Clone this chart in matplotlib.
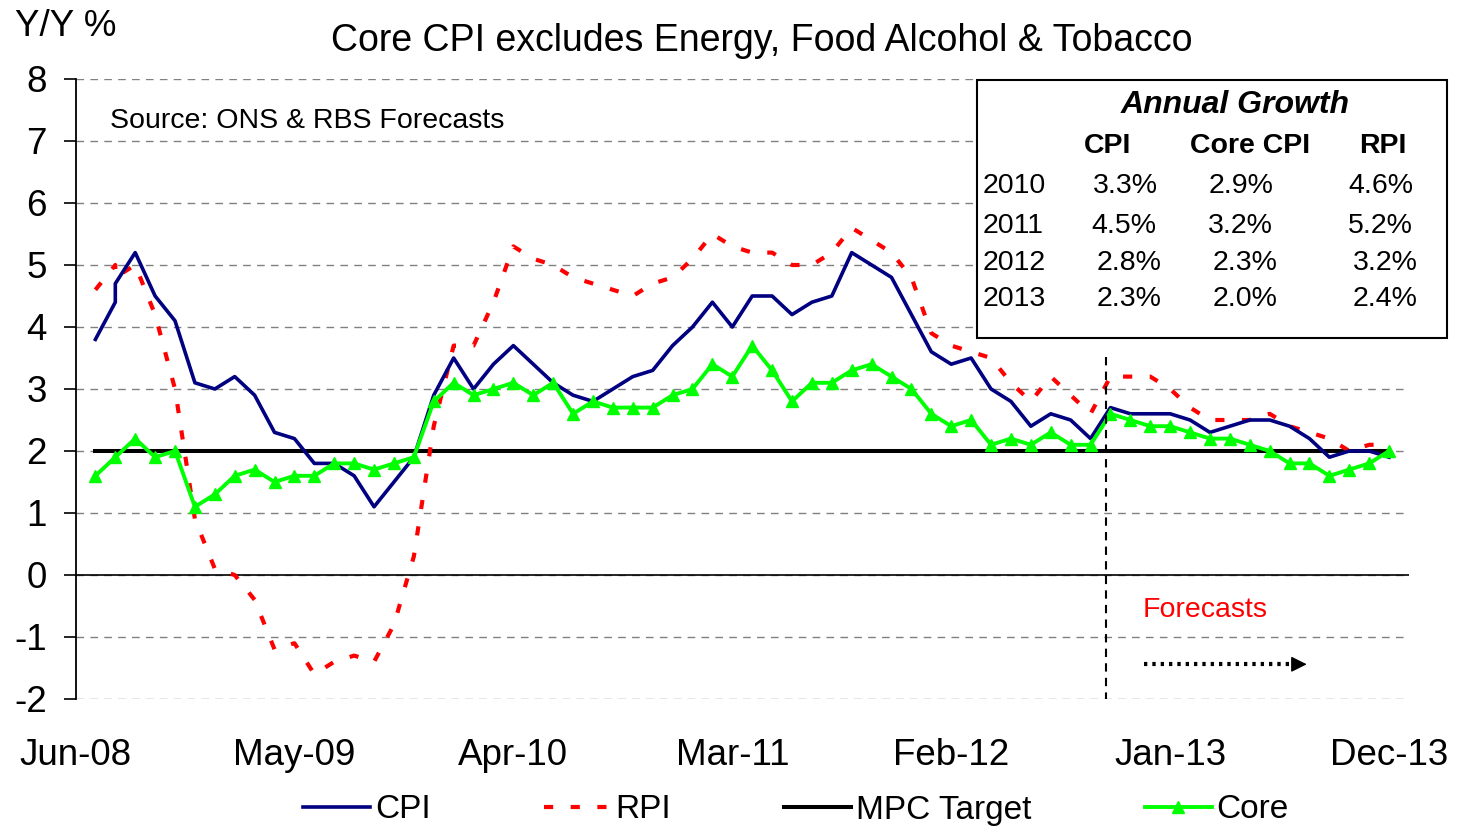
import numpy as np
import matplotlib
matplotlib.use("Agg")
import matplotlib.pyplot as plt
from matplotlib.patches import Rectangle

plt.rcParams['font.family'] = ['Liberation Sans', 'DejaVu Sans']

# ---------------- data ----------------
tick_labels = ['Jun-08', 'May-09', 'Apr-10', 'Mar-11', 'Feb-12', 'Jan-13', 'Dec-13']
tick_months = [0, 11, 22, 33, 44, 55, 66]          # months after Jun-08

months = np.arange(1, 67)                            # plotted month positions

# CPI and RPI carry two readings at the second position (as in the source chart)
cpi = [3.8, 4.4, 4.7, 5.2, 4.5, 4.1, 3.1, 3.0, 3.2, 2.9, 2.3, 2.2, 1.8, 1.8, 1.6,
       1.1, 1.5, 1.9, 2.9, 3.5, 3.0, 3.4, 3.7, 3.4, 3.1, 2.9, 2.8, 3.0, 3.2, 3.3,
       3.7, 4.0, 4.4, 4.0, 4.5, 4.5, 4.2, 4.4, 4.5, 5.2, 5.0, 4.8, 4.2, 3.6, 3.4,
       3.5, 3.0, 2.8, 2.4, 2.6, 2.5, 2.2, 2.7, 2.6, 2.6, 2.6, 2.5, 2.3, 2.4, 2.5,
       2.5, 2.4, 2.2, 1.9, 2.0, 2.0, 1.9]
rpi = [4.6, 5.0, 4.8, 5.0, 4.2, 3.0, 0.9, 0.1, 0.0, -0.4, -1.2, -1.1, -1.6, -1.4,
       -1.3, -1.4, -0.8, 0.3, 2.4, 3.7, 3.7, 4.4, 5.3, 5.1, 5.0, 4.8, 4.7, 4.6,
       4.5, 4.7, 4.8, 5.1, 5.5, 5.3, 5.2, 5.2, 5.0, 5.0, 5.2, 5.6, 5.4, 5.2, 4.8,
       3.9, 3.7, 3.6, 3.5, 3.1, 2.8, 3.2, 2.9, 2.6, 3.2, 3.2, 3.2, 3.0, 2.7, 2.5,
       2.5, 2.5, 2.6, 2.4, 2.3, 2.2, 2.0, 2.1, 2.1]
core = [1.6, 1.9, 2.2, 1.9, 2.0, 1.1, 1.3, 1.6, 1.7, 1.5, 1.6, 1.6, 1.8, 1.8, 1.7,
        1.8, 1.9, 2.8, 3.1, 2.9, 3.0, 3.1, 2.9, 3.1, 2.6, 2.8, 2.7, 2.7, 2.7, 2.9,
        3.0, 3.4, 3.2, 3.7, 3.3, 2.8, 3.1, 3.1, 3.3, 3.4, 3.2, 3.0, 2.6, 2.4, 2.5,
        2.1, 2.2, 2.1, 2.3, 2.1, 2.1, 2.6, 2.5, 2.4, 2.4, 2.3, 2.2, 2.2, 2.1, 2.0,
        1.8, 1.8, 1.6, 1.7, 1.8, 2.0]
mpc_target = [2.0] * len(months)

table_years = ['2010', '2011', '2012', '2013']
table_cols = ['CPI', 'Core CPI', 'RPI']
table_cpi = ['3.3%', '4.5%', '2.8%', '2.3%']
table_core = ['2.9%', '3.2%', '2.3%', '2.0%']
table_rpi = ['4.6%', '5.2%', '3.2%', '2.4%']

forecast_start = 51.8

# ---------------- figure ----------------
W, H = 1459, 826
fig = plt.figure(figsize=(W / 100, H / 100), dpi=100)
ax = fig.add_axes([75.5 / W, 1 - 699 / H, (1409 - 75.5) / W, (699 - 79) / H])

def fp(x, y):
    return (x / W, 1 - y / H)

dup_pos = np.insert(months, 1, months[1])

ax.set_xlim(0, 67)
ax.set_ylim(-2, 8)

ax.set_yticks(range(-2, 9))
ax.yaxis.grid(True, color='#808080', lw=1.0, linestyle=(0, (5.5, 4.5)))
ax.set_axisbelow(True)
ax.axhline(0, color='black', lw=1.2, zorder=1)

l_mpc, = ax.plot(months, mpc_target, color='black', lw=2.9, zorder=2, label='MPC Target')
l_rpi, = ax.plot(dup_pos, rpi, color='#FF0000', lw=3.0, linestyle=(0, (2.2, 4.2)),
                 zorder=3, label='RPI')
l_cpi, = ax.plot(dup_pos, cpi, color='#000080', lw=2.6, zorder=4, label='CPI')
l_core, = ax.plot(months, core, color='#00FF00', lw=2.8, marker='^', ms=9,
                  mec='#00FF00', mfc='#00FF00', zorder=5, label='Core')

# forecast divider
ax.plot([forecast_start, forecast_start], [3.52, -2], color='black', lw=1.5,
        linestyle=(0, (4, 3)), zorder=6)

# dotted arrow
ax.plot([53.7, 61.4], [-1.44, -1.44], color='black', lw=3.0, linestyle=(0, (0.8, 1.2)),
        zorder=6)
ax.annotate('', xy=(62.0, -1.44), xytext=(61.2, -1.44),
            arrowprops=dict(arrowstyle='-|>', color='black', lw=1.0, mutation_scale=24),
            zorder=6)

# spines / ticks
for s in ['top', 'right', 'bottom']:
    ax.spines[s].set_visible(False)
ax.spines['left'].set_linewidth(1.3)
ax.tick_params(axis='y', length=8.5, width=1.2, pad=12, labelsize=26.5)
ax.set_yticklabels([str(v) for v in range(-2, 9)])
ax.set_xticks(tick_months)
ax.set_xticklabels(tick_labels)
ax.tick_params(axis='x', length=0, pad=28, labelsize=26.5)

# texts
fig.text(*fp(15, 27), 'Y/Y %', fontsize=26.5, ha='left', va='center')
fig.text(*fp(762, 41), 'Core CPI excludes Energy, Food Alcohol & Tobacco',
         fontsize=27, ha='center', va='center')
fig.text(*fp(110, 121), 'Source: ONS & RBS Forecasts', fontsize=20.5,
         ha='left', va='center')
fig.text(*fp(1143, 610), 'Forecasts', fontsize=20.5, color='#FF0000',
         ha='left', va='center')

# table box
x0, y0 = fp(977, 338)
x1, y1 = fp(1447, 80)
fig.add_artist(Rectangle((x0, y0), x1 - x0, y1 - y0, transform=fig.transFigure,
                         facecolor='white', edgecolor='black', lw=1.5, zorder=5))
fig.text(*fp(1235, 105), 'Annual Growth', fontsize=23, fontweight='bold',
         fontstyle='italic', ha='center', va='center', zorder=6)
col_x = [1108, 1250, 1383]
for cx, name in zip(col_x, table_cols):
    fig.text(*fp(cx, 146), name, fontsize=20.5, fontweight='bold',
             ha='center', va='center', zorder=6)
row_y = [186, 226, 263, 299]
row_shift = [0, -1, 4, 4]
val_x = [1125, 1241, 1381]
for i, yr in enumerate(table_years):
    fig.text(*fp(983, row_y[i]), yr, fontsize=20.5, ha='left', va='center', zorder=6)
    for cx, vals in zip(val_x, [table_cpi, table_core, table_rpi]):
        fig.text(*fp(cx + row_shift[i], row_y[i]), vals[i], fontsize=20.5,
                 ha='center', va='center', zorder=6)

# legend
leg_handles = [l_cpi, l_rpi, l_mpc, l_core]
fig.legend(leg_handles, [h.get_label() for h in leg_handles], loc='center',
           bbox_to_anchor=fp(796, 810), ncol=4, frameon=False, fontsize=24,
           handlelength=2.0, handletextpad=0.15, columnspacing=3.4, numpoints=1)

fig.savefig('out.png', dpi=100)
